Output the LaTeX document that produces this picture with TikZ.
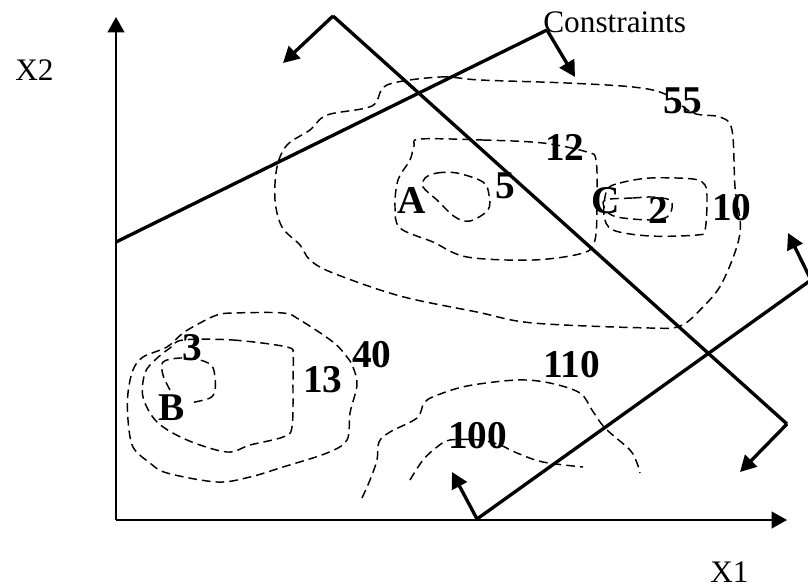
\documentclass[tikz,border=0pt]{standalone}
\usepackage{fontspec}
\setmainfont{Liberation Serif}
\usetikzlibrary{arrows.meta}
\tikzset{
  axisline/.style={line width=1.5pt,-{Triangle[length=11.5pt,width=12.5pt]}},
  cline/.style={line width=2.5pt},
  carrow/.style={line width=2.5pt,-{Triangle[length=12pt,width=12.5pt]}},
  contour/.style={line width=1.1pt,dash pattern=on 6.5pt off 3.8pt},
  rlabel/.style={inner sep=0pt,anchor=base west,font=\fontsize{23.5}{26}\selectfont},
  blabel/.style={inner sep=0pt,anchor=base west,font=\fontsize{29.5}{32}\selectfont\bfseries}
}
\begin{document}
\begin{tikzpicture}[x=0.75pt,y=-0.75pt]
\useasboundingbox (0,0) rectangle (808,587);
\clip (0,0) rectangle (808,587);
\fill[white] (0,0) rectangle (808,587);
% axes
\coordinate (O) at (116,520);
\coordinate (Ytop) at (116,17);
\coordinate (Xend) at (787,520);
\draw[axisline] (O) -- (Ytop);
\draw[axisline] (O) -- (Xend);
\node[rlabel] (x2) at (15,80) {X2};
\node[rlabel] (x1) at (710,582) {X1};
% constraints
\coordinate (c1a) at (116,242);
\coordinate (c1b) at (547,30);
\coordinate (c1t) at (575,77);
\draw[cline] (c1a) -- (c1b);
\draw[carrow] (c1b) -- (c1t);
\coordinate (c2a) at (333,16);
\coordinate (c2b) at (787,424);
\coordinate (c2ta) at (283,63);
\coordinate (c2tb) at (740,472);
\draw[cline] (c2a) -- (c2b);
\draw[carrow] (c2a) -- (c2ta);
\draw[carrow] (c2b) -- (c2tb);
\coordinate (c3a) at (477,519);
\coordinate (c3b) at (811,280);
\coordinate (c3ta) at (452,472);
\coordinate (c3tb) at (788,233);
\draw[cline] (c3a) -- (c3b);
\draw[carrow] (c3a) -- (c3ta);
\draw[carrow] (c3b) -- (c3tb);
\node[rlabel] (cons) at (543,32) {Constraints};
% contours
\draw[contour] plot[smooth cycle, tension=0.55] coordinates {(387,85) (440,77) (480,80) (567,83) (633,87) (665,94) (693,113) (720,117) (732,130) (735,187) (740,233) (722,283) (700,310) (680,326) (650,328) (533,323) (477,312) (400,296) (333,273) (310,260) (300,245) (282,227) (275,200) (277,167) (287,145) (310,130) (327,115) (372,106)};
\draw[contour] plot[smooth cycle, tension=0.55] coordinates {(420,139) (483,140) (543,143) (587,152) (596,160) (597,200) (595,240) (583,253) (533,260) (467,257) (433,242) (400,228) (395,207) (398,180) (410,160) (414,146)};
\draw[contour] plot[smooth cycle, tension=0.55] coordinates {(425,178) (437,173) (457,173) (483,182) (489,195) (488,210) (470,221) (455,217) (437,200) (423,187)};
\draw[contour] plot[smooth cycle, tension=0.55] coordinates {(605,200) (633,198) (653,197) (670,200) (672,208) (667,217) (650,220) (617,217) (606,210)};
\draw[contour] plot[smooth cycle, tension=0.55] coordinates {(607,190) (620,183) (650,178) (693,179) (705,185) (707,200) (705,230) (697,235) (650,236) (613,230) (604,215)};
\draw[contour] plot[smooth cycle, tension=0.55] coordinates {(347,357) (333,342) (300,320) (283,313) (233,313) (217,315) (200,323) (183,333) (167,347) (143,357) (133,370) (128,393) (128,420) (133,447) (150,463) (167,473) (217,482) (250,477) (283,467) (327,453) (347,440) (350,413) (357,385) (353,367)};
\draw[contour] plot[smooth cycle, tension=0.55] coordinates {(183,340) (233,340) (287,347) (293,355) (293,380) (292,427) (283,437) (250,445) (227,452) (187,440) (157,422) (143,397) (145,373) (155,360) (170,348)};
\draw[contour] plot[smooth, tension=0.55] coordinates {(170,390) (163,375) (163,362) (180,358) (200,360) (212,366) (215,378) (215,390) (210,398) (190,403)};
\draw[contour] plot[smooth, tension=0.55] coordinates {(362,498) (370,480) (377,460) (379,442) (390,432) (417,418) (424,403) (435,396) (467,386) (517,380) (550,383) (580,393) (592,410) (605,428) (630,450) (637,463) (640,473)};
\draw[contour] plot[smooth, tension=0.55] coordinates {(410,480) (423,460) (437,447) (450,440) (480,440) (500,445) (517,453) (543,462) (583,467)};
% labels
\node[blabel] (l55) at (663,113) {55};
\node[blabel] (l12) at (545,160) {12};
\node[blabel] (lA) at (397,213) {A};
\node[blabel] (l5) at (495,198) {5};
\node[blabel] (lC) at (591,213) {C};
\node[blabel] (l2) at (648,223) {2};
\node[blabel] (l10) at (712,220) {10};
\node[blabel] (l3) at (182,360) {3};
\node[blabel] (lB) at (158,420) {B};
\node[blabel] (l13) at (303,392) {13};
\node[blabel] (l40) at (352,367) {40};
\node[blabel] (l110) at (543,377) {110};
\node[blabel] (l100) at (448,448) {100};
\end{tikzpicture}
\end{document}
